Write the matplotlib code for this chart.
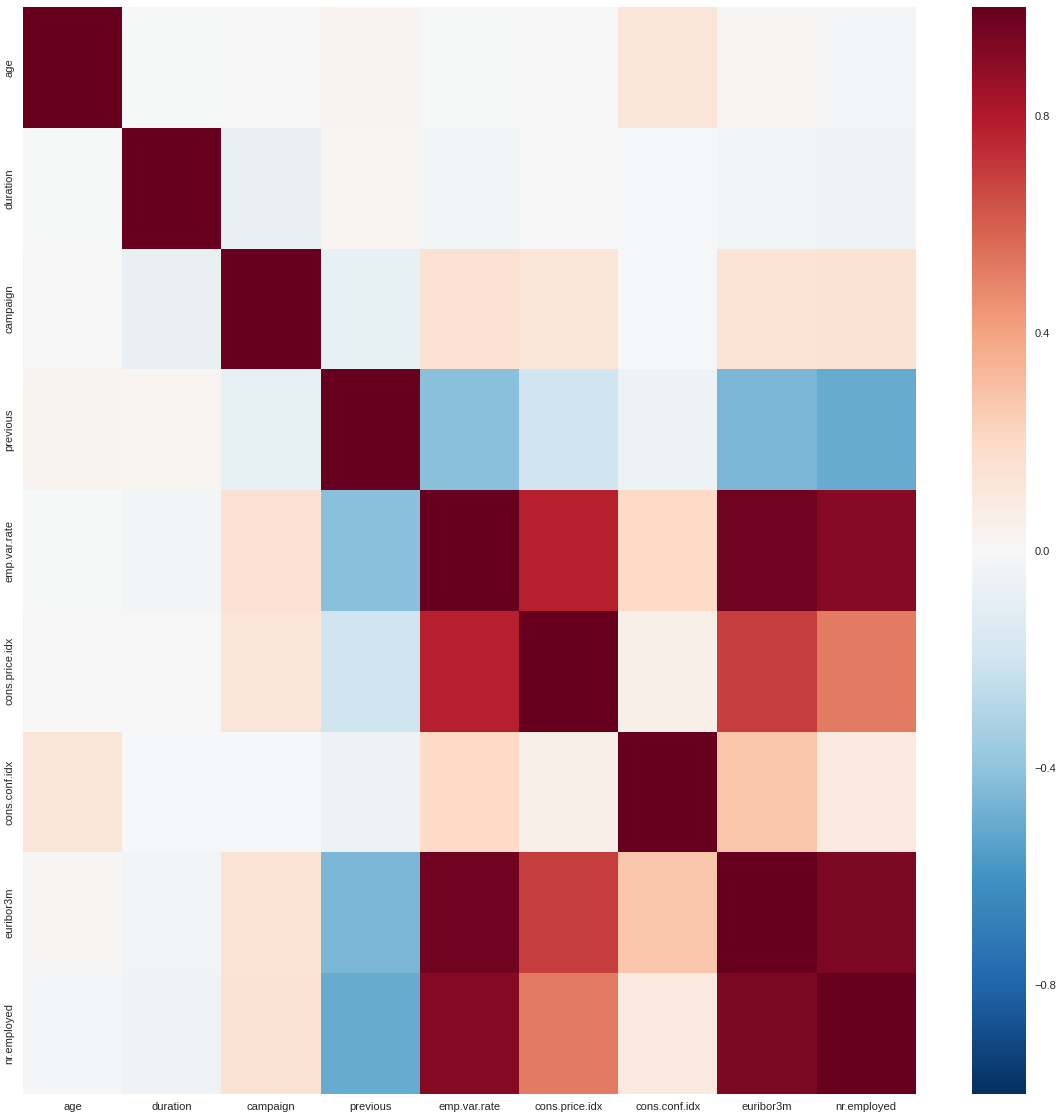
import numpy as np
import matplotlib
matplotlib.use("Agg")
import matplotlib.pyplot as plt

plt.rcParams['font.family'] = ['Liberation Sans', 'DejaVu Sans']

# variables of the bank marketing set
cols = ['age', 'duration', 'campaign', 'previous', 'emp.var.rate',
        'cons.price.idx', 'cons.conf.idx', 'euribor3m', 'nr.employed']

# upper triangle of the correlation matrix, row by row
r_age = [-0.0009, 0.0046, 0.0244, -0.0004, 0.0009, 0.1294, 0.0108, -0.0177]
r_duration = [-0.0717, 0.0206, -0.0280, 0.0053, -0.0082, -0.0329, -0.0447]
r_campaign = [-0.0791, 0.1508, 0.1278, -0.0137, 0.1351, 0.1441]
r_previous = [-0.4205, -0.2031, -0.0509, -0.4545, -0.5013]
r_emp = [0.7753, 0.1960, 0.9722, 0.9070]
r_price = [0.0590, 0.6882, 0.5220]
r_conf = [0.2777, 0.1005]
r_euribor = [0.9452]

upper = [r_age, r_duration, r_campaign, r_previous, r_emp, r_price, r_conf, r_euribor]

n = len(cols)
corr = np.eye(n)
for i, row in enumerate(upper):
    for k, v in enumerate(row):
        j = i + 1 + k
        corr[i, j] = v
        corr[j, i] = v

fig = plt.figure(figsize=(10.6, 11.17), dpi=100)
ax = fig.add_axes([0.0217, 0.0206, 0.8423, 0.9731])
cax = fig.add_axes([0.917, 0.0206, 0.051, 0.9731])

mesh = ax.pcolormesh(np.arange(n + 1), np.arange(n + 1), corr,
                     cmap='RdBu_r', vmin=-1, vmax=1)
ax.set_xlim(0, n)
ax.set_ylim(n, 0)
ax.set_xticks(np.arange(n) + 0.5)
ax.set_yticks(np.arange(n) + 0.5)
ax.set_xticklabels(cols)
ax.set_yticklabels(cols, rotation=90, va='center')
ax.tick_params(length=0, labelsize=8, labelcolor='#262626', pad=6)
for s in ax.spines.values():
    s.set_visible(False)

cb = fig.colorbar(mesh, cax=cax)
cb.set_ticks([-0.8, -0.4, 0.0, 0.4, 0.8])
cb.ax.tick_params(length=0, labelsize=8, labelcolor='#262626', pad=6)
cb.outline.set_visible(False)

fig.savefig('out.png', dpi=100)
